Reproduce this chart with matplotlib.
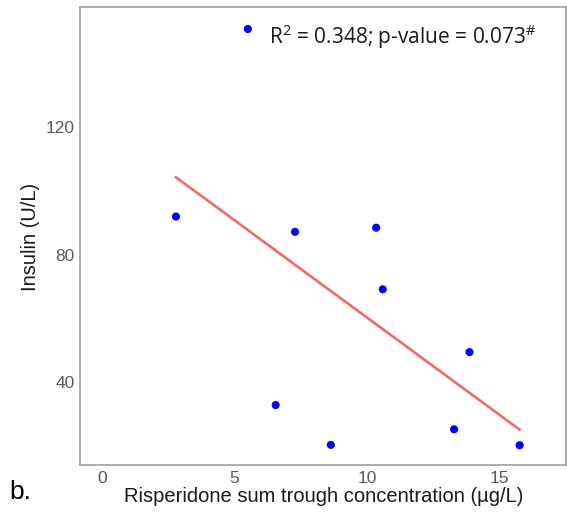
import numpy as np
import matplotlib
matplotlib.use("Agg")
import matplotlib.pyplot as plt

# Data
risperidone = [2.79, 5.50, 7.28, 10.34, 10.59, 13.86, 6.55, 8.63, 13.28, 15.75]
insulin = [92.0, 150.8, 87.2, 88.5, 69.2, 49.5, 32.9, 20.4, 25.3, 20.3]
x_ticks = [0, 5, 10, 15]
y_ticks = [40, 80, 120]
annotation = r"R$^{\mathrm{2}}$ = 0.348; p-value = 0.073$^{\mathrm{\#}}$"
panel_label = "b."
x_title = "Risperidone sum trough concentration (µg/L)"
y_title = "Insulin (U/L)"

plt.rcParams["font.family"] = ["Liberation Sans", "DejaVu Sans"]
plt.rcParams["mathtext.fontset"] = "custom"
plt.rcParams["mathtext.rm"] = "Open Sans"

fig = plt.figure(figsize=(5.67, 5.18), dpi=100)
ax = fig.add_axes([80 / 567, 1 - 465 / 518, (566 - 80) / 567, (465 - 7) / 518])

x = np.array(risperidone)
y = np.array(insulin)
ax.scatter(x, y, s=34, color="#0000FF", edgecolors="none", zorder=3)

slope, intercept = np.polyfit(x, y, 1)
xl = np.array([x.min(), x.max()])
ax.plot(xl, intercept + slope * xl, color="#F26B63", lw=1.9, zorder=2)

ax.set_xlim(-0.83, 17.5)
ax.set_ylim(14.1, 157.7)
ax.set_xticks(x_ticks)
ax.set_yticks(y_ticks)
ax.tick_params(length=0, labelsize=12.5, labelcolor="#5A5A5A", pad=4)
for sp in ax.spines.values():
    sp.set_color("#A0A0A0")
    sp.set_linewidth(1.2)

fig.text(324 / 567, 1 - 497 / 518, x_title, ha="center", va="center", fontsize=14.5, color="#1A1A1A")
fig.text(30 / 567, 1 - 237 / 518, y_title, ha="center", va="center", rotation=90, fontsize=14.5, color="#1A1A1A")

fig.text(269 / 567, 1 - 37 / 518, annotation, ha="left", va="center", fontsize=15, family="Open Sans", color="#1A1A1A")
fig.text(9 / 567, 1 - 492 / 518, panel_label, ha="left", va="center", fontsize=19, color="#000000")

fig.savefig("out.png", dpi=100)
